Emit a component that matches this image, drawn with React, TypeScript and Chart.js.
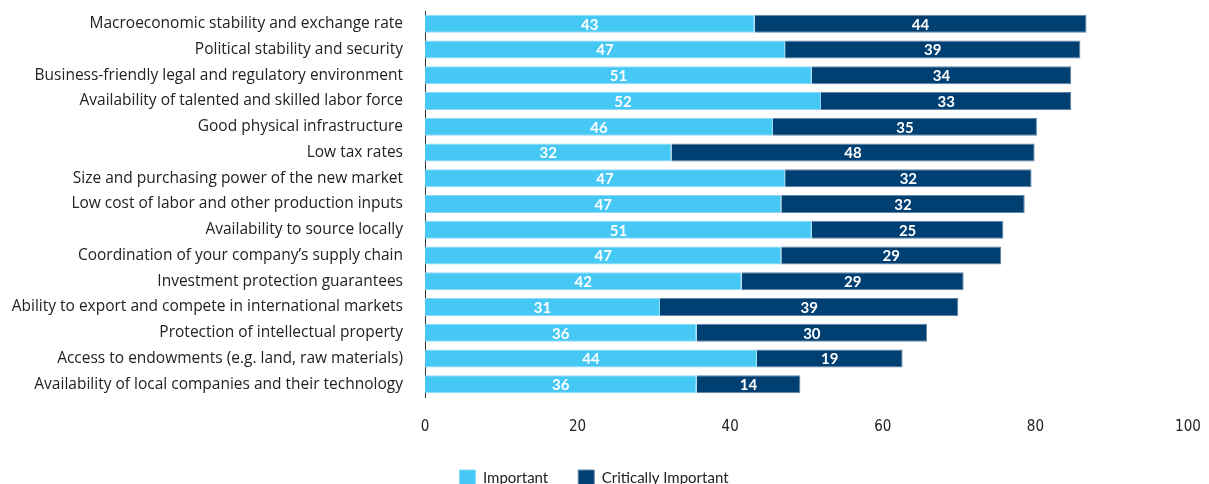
import React, { useEffect, useRef } from "react";
import { Chart, registerables } from "chart.js";

Chart.register(...registerables);

const categories = [
  "Macroeconomic stability and exchange rate",
  "Political stability and security",
  "Business-friendly legal and regulatory environment",
  "Availability of talented and skilled labor force",
  "Good physical infrastructure",
  "Low tax rates",
  "Size and purchasing power of the new market",
  "Low cost of labor and other production inputs",
  "Availability to source locally",
  "Coordination of your company\u2019s supply chain",
  "Investment protection guarantees",
  "Ability to export and compete in international markets",
  "Protection of intellectual property",
  "Access to endowments (e.g. land, raw materials)",
  "Availability of local companies and their technology",
];

const important = [43.2, 47.2, 50.7, 51.9, 45.6, 32.3, 47.2, 46.7, 50.7, 46.7, 41.5, 30.8, 35.6, 43.5, 35.6];
const critical = [43.5, 38.7, 34.0, 32.8, 34.6, 47.6, 32.3, 31.9, 25.1, 28.8, 29.1, 39.1, 30.2, 19.1, 13.6];

const xTicks = [0, 20, 40, 60, 80, 100];
const seriesNames = ["Important", "Critically Important"];
const colors = ["#46C8F5", "#003F72"];
const borderColors = ["#8AD9F7", "#5F84A8"];

const labelPlugin = {
  id: "barLabels",
  afterDatasetsDraw(chart: any) {
    const ctx = chart.ctx;
    ctx.save();
    ctx.fillStyle = "#ffffff";
    ctx.font = "bold 15px Lato";
    ctx.textAlign = "center";
    ctx.textBaseline = "middle";
    chart.data.datasets.forEach((ds: any, di: number) => {
      const meta = chart.getDatasetMeta(di);
      meta.data.forEach((el: any, i: number) => {
        const v = ds.data[i];
        const cx = (el.x + el.base) / 2;
        ctx.fillText(String(Math.round(v)), cx, el.y + 1);
      });
    });
    ctx.restore();
  },
};

const zeroPadding = (scale: any) => {
  scale.paddingTop = 0;
  scale.paddingBottom = 0;
  scale.paddingLeft = 0;
  scale.paddingRight = 0;
};

export default function App() {
  const ref = useRef<HTMLCanvasElement | null>(null);
  useEffect(() => {
    if (!ref.current) return;
    const chart = new Chart(ref.current, {
      type: "bar",
      data: {
        labels: categories,
        datasets: [
          {
            label: seriesNames[0],
            data: important,
            backgroundColor: colors[0],
            borderColor: borderColors[0],
            borderWidth: 1,
            categoryPercentage: 1,
            barPercentage: 0.7,
          },
          {
            label: seriesNames[1],
            data: critical,
            backgroundColor: colors[1],
            borderColor: borderColors[1],
            borderWidth: 1,
            categoryPercentage: 1,
            barPercentage: 0.7,
          },
        ],
      },
      options: {
        indexAxis: "y",
        responsive: false,
        animation: false,
        layout: { padding: { left: 0, right: 21, top: 11, bottom: 0 } },
        plugins: {
          tooltip: { enabled: false },
          legend: {
            position: "bottom",
            maxHeight: 44,
            labels: {
              boxWidth: 16,
              boxHeight: 16,
              padding: 30,
              color: "#222",
              font: { family: "Lato", size: 15 },
            },
          },
        },
        scales: {
          x: {
            stacked: true,
            min: 0,
            max: 100,
            afterBuildTicks: (scale: any) => {
              scale.ticks = xTicks.map((v) => ({ value: v }));
            },
            afterFit: (scale: any) => {
              scale.height = 43;
              zeroPadding(scale);
            },
            grid: { display: false, drawTicks: false },
            border: { display: false },
            ticks: {
              padding: 21,
              color: "#222",
              font: { family: "'Liberation Sans Narrow', 'DejaVu Sans Condensed'", size: 15 },
            },
          },
          y: {
            stacked: true,
            afterFit: (scale: any) => {
              scale.width = 425;
              zeroPadding(scale);
            },
            grid: { display: false, drawTicks: false },
            border: { display: true, color: "#333", width: 1 },
            ticks: {
              padding: 22,
              color: "#222",
              autoSkip: false,
              font: { family: "'Open Sans'", size: 15.5 },
            },
          },
        },
      },
      plugins: [labelPlugin],
    });
    return () => chart.destroy();
  }, []);
  return (
    <div style={{ position: "fixed", left: 0, top: 0, width: 1209, height: 484 }}>
      <canvas ref={ref} width={1209} height={484} style={{ width: 1209, height: 484 }} />
    </div>
  );
}
